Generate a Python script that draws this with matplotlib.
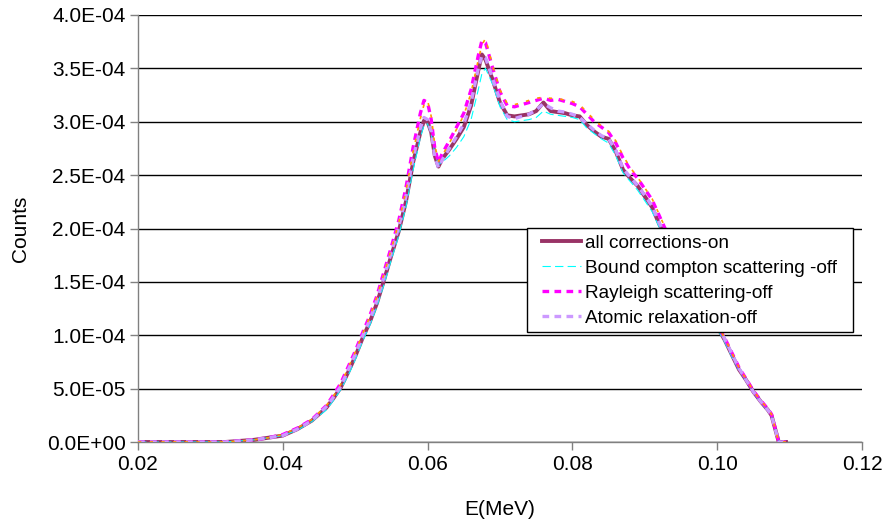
import matplotlib
matplotlib.use("Agg")
import matplotlib.pyplot as plt
from matplotlib.patches import Rectangle
from matplotlib.ticker import FuncFormatter, MultipleLocator

plt.rcParams['font.family'] = ['Liberation Sans', 'DejaVu Sans']

energy = [0.020, 0.030, 0.032, 0.034, 0.036, 0.038, 0.040, 0.042, 0.044, 0.046,
          0.047, 0.048, 0.049, 0.050, 0.051, 0.052, 0.053, 0.054, 0.055, 0.056,
          0.057, 0.058, 0.059, 0.0595, 0.060, 0.0605, 0.061, 0.0615, 0.062, 0.063,
          0.064, 0.065, 0.066, 0.067, 0.0675, 0.068, 0.069, 0.070, 0.071, 0.072,
          0.073, 0.074, 0.075, 0.076, 0.077, 0.078, 0.079, 0.080, 0.081, 0.082,
          0.083, 0.084, 0.085, 0.086, 0.087, 0.088, 0.089, 0.090, 0.091, 0.092,
          0.093, 0.094, 0.095, 0.096, 0.097, 0.098, 0.099, 0.100, 0.101, 0.102,
          0.103, 0.104, 0.105, 0.106, 0.107, 0.1075, 0.1085, 0.1095]

# counts in units of 1e-4
all_on = [0, 0, 0, 0.01, 0.02, 0.04, 0.06, 0.12, 0.20, 0.32,
          0.41, 0.51, 0.65, 0.80, 0.97, 1.12, 1.30, 1.52, 1.75, 1.97,
          2.25, 2.62, 2.90, 3.01, 3.00, 2.90, 2.68, 2.58, 2.65, 2.74,
          2.84, 2.95, 3.15, 3.48, 3.63, 3.58, 3.39, 3.18, 3.06, 3.05,
          3.06, 3.07, 3.10, 3.18, 3.10, 3.09, 3.08, 3.06, 3.05, 2.97,
          2.91, 2.86, 2.84, 2.72, 2.55, 2.47, 2.40, 2.30, 2.20, 2.04,
          1.91, 1.79, 1.67, 1.56, 1.44, 1.32, 1.20, 1.08, 0.96, 0.82,
          0.68, 0.58, 0.47, 0.38, 0.30, 0.25, 0.0, 0.0]

compton_off = [0, 0, 0, 0.01, 0.02, 0.04, 0.06, 0.11, 0.19, 0.30,
               0.39, 0.49, 0.62, 0.77, 0.94, 1.09, 1.27, 1.48, 1.71, 1.93,
               2.20, 2.55, 2.85, 2.97, 2.98, 2.88, 2.70, 2.60, 2.62, 2.68,
               2.76, 2.86, 3.02, 3.30, 3.45, 3.50, 3.35, 3.14, 3.02, 3.00,
               3.01, 3.02, 3.04, 3.10, 3.07, 3.06, 3.05, 3.04, 3.02, 2.94,
               2.89, 2.84, 2.80, 2.68, 2.52, 2.44, 2.36, 2.26, 2.16, 2.01,
               1.89, 1.77, 1.65, 1.54, 1.42, 1.30, 1.18, 1.06, 0.94, 0.80,
               0.67, 0.57, 0.46, 0.37, 0.29, 0.24, 0.0, 0.0]

rayleigh_off = [0, 0, 0, 0.01, 0.02, 0.04, 0.07, 0.13, 0.21, 0.34,
                0.44, 0.55, 0.70, 0.85, 1.02, 1.18, 1.37, 1.60, 1.83, 2.07,
                2.38, 2.76, 3.08, 3.20, 3.18, 3.02, 2.75, 2.62, 2.70, 2.82,
                2.95, 3.08, 3.30, 3.62, 3.76, 3.74, 3.50, 3.28, 3.15, 3.14,
                3.16, 3.18, 3.20, 3.22, 3.20, 3.21, 3.19, 3.17, 3.14, 3.07,
                3.00, 2.95, 2.90, 2.80, 2.66, 2.55, 2.47, 2.37, 2.27, 2.12,
                1.97, 1.84, 1.71, 1.60, 1.48, 1.35, 1.23, 1.10, 0.98, 0.84,
                0.70, 0.59, 0.48, 0.39, 0.31, 0.26, 0.0, 0.0]

relax_off = [0, 0, 0, 0.01, 0.02, 0.04, 0.06, 0.12, 0.20, 0.33,
             0.42, 0.52, 0.67, 0.82, 0.99, 1.14, 1.33, 1.55, 1.78, 2.01,
             2.30, 2.66, 2.94, 3.04, 3.02, 2.91, 2.67, 2.57, 2.64, 2.75,
             2.86, 2.98, 3.18, 3.50, 3.62, 3.60, 3.40, 3.20, 3.05, 3.03,
             3.05, 3.07, 3.11, 3.17, 3.13, 3.10, 3.09, 3.07, 3.04, 2.98,
             2.92, 2.87, 2.84, 2.73, 2.56, 2.48, 2.40, 2.31, 2.21, 2.05,
             1.92, 1.80, 1.68, 1.57, 1.45, 1.33, 1.21, 1.09, 0.97, 0.83,
             0.69, 0.58, 0.47, 0.38, 0.30, 0.25, 0.0, 0.0]

fifth_series = [0, 0, 0, 0.01, 0.02, 0.04, 0.07, 0.13, 0.21, 0.34,
                0.43, 0.54, 0.69, 0.84, 1.01, 1.17, 1.36, 1.58, 1.81, 2.05,
                2.35, 2.72, 3.03, 3.16, 3.20, 3.05, 2.78, 2.63, 2.68, 2.80,
                2.93, 3.06, 3.27, 3.58, 3.72, 3.78, 3.52, 3.30, 3.17, 3.16,
                3.18, 3.20, 3.22, 3.23, 3.22, 3.22, 3.20, 3.19, 3.16, 3.09,
                3.02, 2.96, 2.91, 2.82, 2.68, 2.57, 2.48, 2.38, 2.28, 2.13,
                1.98, 1.85, 1.72, 1.60, 1.48, 1.36, 1.23, 1.10, 0.98, 0.84,
                0.70, 0.59, 0.48, 0.39, 0.31, 0.26, 0.0, 0.0]

labels = ["all corrections-on", "Bound compton scattering -off",
          "Rayleigh scattering-off", "Atomic relaxation-off"]

scale = 1e-4

fig = plt.figure(figsize=(8.85, 5.22), dpi=100)
L, R, T, B = 138, 862, 15, 442
ax = fig.add_axes([L/885, 1-B/522, (R-L)/885, (B-T)/522])

def ax_x(px):
    return (px - L) / (R - L)

def ax_y(py):
    return (B - py) / (B - T)

h1, = ax.plot(energy, [v*scale for v in all_on], color='#993366', lw=2.8,
              label=labels[0], zorder=3)
h2, = ax.plot(energy, [v*scale for v in compton_off], color='#00FFFF', lw=0.8,
              dashes=(7.5, 3.8), label=labels[1], zorder=4)
h3, = ax.plot(energy, [v*scale for v in rayleigh_off], color='#FF00FF', lw=2.4,
              dashes=(2.0, 1.6), label=labels[2], zorder=5)
h4, = ax.plot(energy, [v*scale for v in relax_off], color='#CC99FF', lw=2.4,
              dashes=(2.0, 1.6), label=labels[3], zorder=6)
ax.plot(energy, [v*scale for v in fifth_series], color='#FF9900', lw=1.2,
        dashes=(2, 5), zorder=7)

ax.set_xlim(0.02, 0.12)
ax.set_ylim(0, 4.0e-4)
ax.xaxis.set_major_locator(MultipleLocator(0.02))
ax.yaxis.set_major_locator(MultipleLocator(0.5e-4))
ax.xaxis.set_major_formatter(FuncFormatter(lambda v, p: f"{v:.2f}"))
ax.yaxis.set_major_formatter(FuncFormatter(lambda v, p: f"{v:.1E}"))

ax.grid(axis='y', color='black', lw=1.0, zorder=0)
ax.set_axisbelow(True)
for s in ['top', 'right']:
    ax.spines[s].set_visible(False)
for s in ['left', 'bottom']:
    ax.spines[s].set_color('#808080')
    ax.spines[s].set_linewidth(1.0)
ax.tick_params(axis='both', direction='out', length=6, width=1, color='#808080',
               labelsize=15, labelcolor='black', pad=3)

ax.set_xlabel("E(MeV)", fontsize=15)
ax.set_ylabel("Counts", fontsize=15)
ax.xaxis.set_label_coords(0.5, -0.135)
ax.yaxis.set_label_coords(-0.149, 0.5)

# legend frame (drawn as a box) and entries
box = Rectangle((ax_x(527), ax_y(332)), ax_x(853) - ax_x(527), ax_y(228) - ax_y(332),
                transform=ax.transAxes, facecolor='white', edgecolor='black',
                lw=1.0, zorder=9, clip_on=False)
ax.add_patch(box)
leg = ax.legend([h1, h2, h3, h4], labels,
                loc='upper left', bbox_to_anchor=(ax_x(541.5), ax_y(234.5)),
                fontsize=13.7, frameon=False, handlelength=2.05, borderpad=0.0,
                labelspacing=0.40, handletextpad=0.26, borderaxespad=0)
leg.set_zorder(10)

fig.savefig("out.png", dpi=100)
